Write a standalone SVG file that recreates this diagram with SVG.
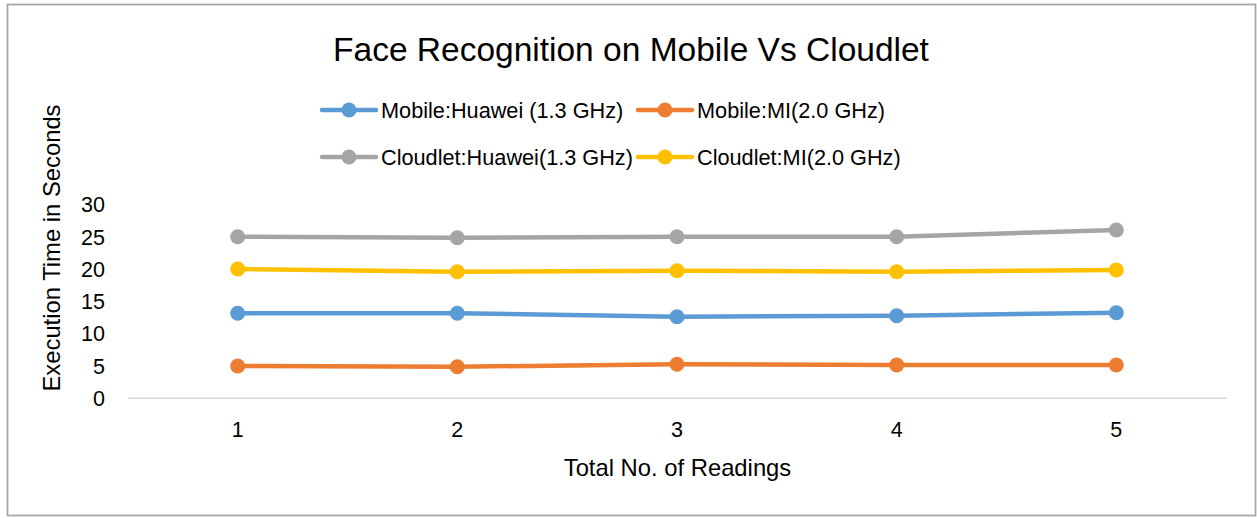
<svg xmlns="http://www.w3.org/2000/svg" width="1257" height="518" viewBox="0 0 1257 518">
  <style>
    text { font-family: "Liberation Sans", Arial, sans-serif; fill: #000; }
    .title { font-size: 33.5px; text-anchor: middle; }
    .tick { font-size: 21.5px; }
    .ytick { text-anchor: end; }
    .xtick { text-anchor: middle; }
    .axis-title { font-size: 23.8px; text-anchor: middle; }
    .legend { font-size: 21.7px; }
    .series { fill: none; stroke-width: 4.5; stroke-linejoin: round; stroke-linecap: round; }
    .s-blue { stroke: #5B9BD5; }
    .s-orange { stroke: #ED7D31; }
    .s-gray { stroke: #A5A5A5; }
    .s-yellow { stroke: #FFC000; }
    .m-blue { fill: #5B9BD5; }
    .m-orange { fill: #ED7D31; }
    .m-gray { fill: #A5A5A5; }
    .m-yellow { fill: #FFC000; }
  </style>

  <!-- chart area -->
  <rect x="0" y="0" width="1257" height="518" fill="#fff"/>
  <rect id="chart-frame" x="7.5" y="4.5" width="1248" height="511" fill="#fff" stroke="#A6A6A6" stroke-width="1.75"/>

  <text id="chart-title" class="title" x="631" y="61">Face Recognition on Mobile Vs Cloudlet</text>

  <!-- legend -->
  <g id="legend">
    <g id="legend-mobile-huawei">
      <line class="series s-blue" x1="322" y1="110" x2="376" y2="110"/>
      <circle class="m-blue" cx="349" cy="110" r="7.5"/>
      <text class="legend" x="381" y="117.5">Mobile:Huawei (1.3 GHz)</text>
    </g>
    <g id="legend-mobile-mi">
      <line class="series s-orange" x1="638" y1="110" x2="692" y2="110"/>
      <circle class="m-orange" cx="665" cy="110" r="7.5"/>
      <text class="legend" x="697" y="117.5">Mobile:MI(2.0 GHz)</text>
    </g>
    <g id="legend-cloudlet-huawei">
      <line class="series s-gray" x1="322" y1="157" x2="376" y2="157"/>
      <circle class="m-gray" cx="349" cy="157" r="7.5"/>
      <text class="legend" x="381" y="164.5">Cloudlet:Huawei(1.3 GHz)</text>
    </g>
    <g id="legend-cloudlet-mi">
      <line class="series s-yellow" x1="638" y1="157" x2="692" y2="157"/>
      <circle class="m-yellow" cx="665" cy="157" r="7.5"/>
      <text class="legend" x="697" y="164.5">Cloudlet:MI(2.0 GHz)</text>
    </g>
  </g>

  <!-- value axis -->
  <g id="y-axis">
    <text class="tick ytick" x="105" y="212.3">30</text>
    <text class="tick ytick" x="105" y="244.5">25</text>
    <text class="tick ytick" x="105" y="276.8">20</text>
    <text class="tick ytick" x="105" y="309">15</text>
    <text class="tick ytick" x="105" y="341.3">10</text>
    <text class="tick ytick" x="105" y="373.5">5</text>
    <text class="tick ytick" x="105" y="405.8">0</text>
    <text class="axis-title" transform="translate(60 248) rotate(-90)">Execution Time in Seconds</text>
  </g>

  <!-- category axis -->
  <g id="x-axis">
    <line x1="128" y1="398.3" x2="1226.5" y2="398.3" stroke="#D9D9D9" stroke-width="1.5"/>
    <text class="tick xtick" x="237.7" y="437.3">1</text>
    <text class="tick xtick" x="457.3" y="437.3">2</text>
    <text class="tick xtick" x="677" y="437.3">3</text>
    <text class="tick xtick" x="896.7" y="437.3">4</text>
    <text class="tick xtick" x="1116.3" y="437.3">5</text>
    <text class="axis-title" x="677.5" y="476">Total No. of Readings</text>
  </g>

  <!-- data series -->
  <g id="connectors">
    <polyline id="line-cloudlet-huawei" class="series s-gray" points="237.7,236.7 457.3,237.7 677,236.7 896.7,236.7 1116.3,230"/>
    <polyline id="line-cloudlet-mi" class="series s-yellow" points="237.7,269 457.3,271.7 677,270.7 896.7,271.7 1116.3,270"/>
    <polyline id="line-mobile-huawei" class="series s-blue" points="237.7,313.3 457.3,313.3 677,316.7 896.7,315.7 1116.3,312.7"/>
    <polyline id="line-mobile-mi" class="series s-orange" points="237.7,366 457.3,366.7 677,364.3 896.7,365 1116.3,365"/>
  </g>

  <g id="points-cloudlet-huawei" class="m-gray">
    <circle cx="237.7" cy="236.7" r="7.5"/>
    <circle cx="457.3" cy="237.7" r="7.5"/>
    <circle cx="677" cy="236.7" r="7.5"/>
    <circle cx="896.7" cy="236.7" r="7.5"/>
    <circle cx="1116.3" cy="230" r="7.5"/>
  </g>
  <g id="points-cloudlet-mi" class="m-yellow">
    <circle cx="237.7" cy="269" r="7.5"/>
    <circle cx="457.3" cy="271.7" r="7.5"/>
    <circle cx="677" cy="270.7" r="7.5"/>
    <circle cx="896.7" cy="271.7" r="7.5"/>
    <circle cx="1116.3" cy="270" r="7.5"/>
  </g>
  <g id="points-mobile-huawei" class="m-blue">
    <circle cx="237.7" cy="313.3" r="7.5"/>
    <circle cx="457.3" cy="313.3" r="7.5"/>
    <circle cx="677" cy="316.7" r="7.5"/>
    <circle cx="896.7" cy="315.7" r="7.5"/>
    <circle cx="1116.3" cy="312.7" r="7.5"/>
  </g>
  <g id="points-mobile-mi" class="m-orange">
    <circle cx="237.7" cy="366" r="7.5"/>
    <circle cx="457.3" cy="366.7" r="7.5"/>
    <circle cx="677" cy="364.3" r="7.5"/>
    <circle cx="896.7" cy="365" r="7.5"/>
    <circle cx="1116.3" cy="365" r="7.5"/>
  </g>
</svg>
